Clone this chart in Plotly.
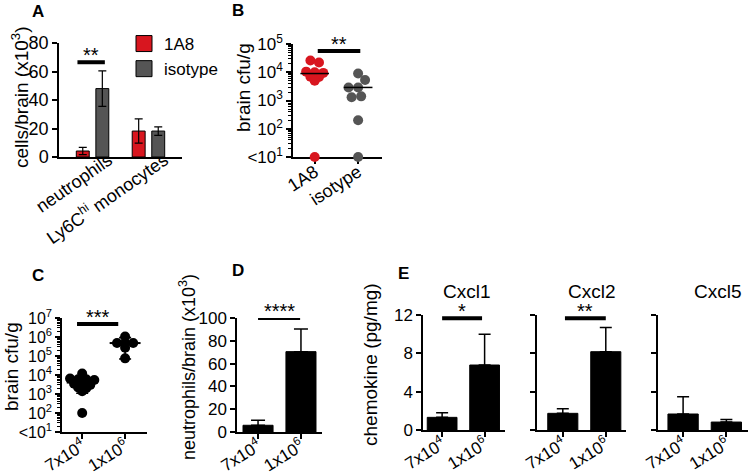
import numpy as np
import plotly.graph_objects as go

W, H = 750, 476
FONT = "Liberation Sans, Arial, Helvetica, sans-serif"
RED = "#d8161f"
GREY = "#555555"

# ---------------- data ----------------
# Panel A
a_groups = ["neutrophils", "Ly6C<sup>hi</sup> monocytes"]
a_series = ["1A8", "isotype"]
a_1a8_mean = [4.2, 18.2]
a_1a8_sd = [2.6, 8.5]
a_iso_mean = [48.0, 18.2]
a_iso_sd = [12.5, 3.0]
a_yticks = [0, 20, 40, 60, 80]
a_sig_text = "**"
a_sig_level = 66.5
a_sig_span = [-0.27, 0.22]

# Panel B
b_groups = ["1A8", "isotype"]
b_1a8 = [26000, 22000, 10500, 10000, 9500, 7000, 6800, 5000, 10]
b_iso = [9000, 5300, 2900, 2900, 1400, 1300, 200, 10]
b_median = [9000, 2900]
b_yticks = [10, 100, 1000, 10000, 100000]
b_yticktext = ["<10<sup>1</sup>", "10<sup>2</sup>", "10<sup>3</sup>", "10<sup>4</sup>", "10<sup>5</sup>"]
b_sig_text = "**"
b_sig_level = 56000
b_sig_span = [0.07, 1.05]

# Panel C
c_groups = ["7x10<sup>4</sup>", "1x10<sup>6</sup>"]
c_low = [12000, 6500, 6000, 6000, 5500, 3500, 3200, 3000, 2200, 2000, 1400, 100]
c_high = [1070000, 480000, 480000, 480000, 270000, 75000]
c_median = [4000, 480000]
c_err_lo = [1100, 70000]
c_err_hi = [6000, 930000]
c_yticks = [10, 1e2, 1e3, 1e4, 1e5, 1e6, 1e7]
c_yticktext = ["<10<sup>1</sup>", "10<sup>2</sup>", "10<sup>3</sup>", "10<sup>4</sup>",
               "10<sup>5</sup>", "10<sup>6</sup>", "10<sup>7</sup>"]
c_sig_text = "***"
c_sig_level = 4.8e6
c_sig_span = [-0.12, 0.84]

# Panel D
d_groups = ["7x10<sup>4</sup>", "1x10<sup>6</sup>"]
d_mean = [5.9, 70.5]
d_sd = [4.4, 19.8]
d_yticks = [0, 20, 40, 60, 80, 100]
d_sig_text = "****"
d_sig_level = 100
d_sig_span = [0.0, 0.98]

# Panel E
e_groups = ["7x10<sup>4</sup>", "1x10<sup>6</sup>"]
e_titles = ["Cxcl1", "Cxcl2", "Cxcl5"]
e_cxcl1_mean = [1.32, 6.78]
e_cxcl1_sd = [0.48, 3.22]
e_cxcl2_mean = [1.74, 8.17]
e_cxcl2_sd = [0.49, 2.53]
e_cxcl5_mean = [1.67, 0.83]
e_cxcl5_sd = [1.81, 0.27]
e_yticks = [0, 4, 8, 12]
e_sig_text = ["*", "**", None]
e_sig_level = [11.65, 11.65, None]
e_sig_span = [[0.0, 0.94], [0.05, 1.0], None]

# ---------------- helpers ----------------
def dom_x(a, b):
    return [a / W, b / W]

def dom_y(top, bottom):
    return [1 - bottom / H, 1 - top / H]

def swarm_greedy(values, x0, px_per_x, px_per_decade, diam):
    logs = np.log10(np.asarray(values, dtype=float))
    order = np.argsort(-logs, kind="stable")
    placed = []
    xs = np.zeros(len(logs))
    for i in order:
        y = -logs[i] * px_per_decade
        cands = [0.0]
        for (px, py) in placed:
            dy = y - py
            if abs(dy) < diam:
                dx = np.sqrt(diam ** 2 - dy ** 2)
                cands += [px + dx, px - dx]
        cands.sort(key=abs)
        chosen = 0.0
        for c in cands:
            if all((c - px) ** 2 + (y - py) ** 2 >= diam ** 2 - 1e-6 for px, py in placed):
                chosen = c
                break
        placed.append((chosen, y))
        xs[i] = x0 + chosen / px_per_x
    return xs.tolist()

def swarm_rows(values, x0, px_per_x, px_per_decade, spacing, gap):
    """Prism-like rows: points close in value share a row, centred on the column."""
    logs = np.log10(np.asarray(values, dtype=float))
    order = list(np.argsort(-logs, kind="stable"))
    xs = np.zeros(len(logs))
    rows, cur = [], [order[0]]
    for i in order[1:]:
        if (logs[cur[0]] - logs[i]) * px_per_decade <= gap:
            cur.append(i)
        else:
            rows.append(cur)
            cur = [i]
    rows.append(cur)
    for r in rows:
        n = len(r)
        for j, i in enumerate(r):
            xs[i] = x0 + (j - (n - 1) / 2) * spacing / px_per_x
    return xs.tolist()

fig = go.Figure()

def sig_bar(xa, ya, span, level):
    fig.add_trace(go.Scatter(x=span, y=[level, level], mode="lines",
                             line=dict(color="black", width=4), cliponaxis=False,
                             showlegend=False, hoverinfo="skip", xaxis=xa, yaxis=ya))

annotations = []

def sig_text(xa, ya, span, level, text, log=False):
    yv = np.log10(level) if log else level
    annotations.append(dict(x=(span[0] + span[1]) / 2, y=yv, xref=xa, yref=ya, text=text,
                            showarrow=False, yanchor="bottom", yshift=-6,
                            font=dict(size=20, family=FONT, color="black")))

# ---------------- Panel A ----------------
fig.add_trace(go.Bar(x=[0, 1], y=a_1a8_mean, name=a_series[0], marker=dict(color=RED, line=dict(color="black", width=1)),
                     error_y=dict(type="data", array=a_1a8_sd, color="black", thickness=1.2, width=4),
                     showlegend=False, xaxis="x", yaxis="y"))
fig.add_trace(go.Bar(x=[0, 1], y=a_iso_mean, name=a_series[1], marker=dict(color=GREY, line=dict(color="black", width=1)),
                     error_y=dict(type="data", array=a_iso_sd, color="black", thickness=1.2, width=4),
                     showlegend=False, xaxis="x", yaxis="y"))
for nm, col in zip(a_series, [RED, GREY]):
    fig.add_trace(go.Scatter(x=[None], y=[None], mode="markers", name=nm,
                             marker=dict(symbol="square", size=16, color=col, line=dict(color="black", width=1)),
                             xaxis="x", yaxis="y"))
sig_bar("x", "y", a_sig_span, a_sig_level)
sig_text("x", "y", a_sig_span, a_sig_level, a_sig_text)

# ---------------- Panel B ----------------
B_PXX, B_PXD = 43.0, 28.5
b_x = [swarm_rows(b_1a8, 0, B_PXX, B_PXD, 8.5, 3.0), swarm_greedy(b_iso, 1, B_PXX, B_PXD, 9.5)]
for xs, vals, col in zip(b_x, [b_1a8, b_iso], [RED, GREY]):
    fig.add_trace(go.Scatter(x=xs, y=vals, mode="markers",
                             marker=dict(size=10, color=col), cliponaxis=False, showlegend=False,
                             xaxis="x2", yaxis="y2"))
fig.add_trace(go.Scatter(x=[0, 1], y=b_median, mode="markers", marker=dict(size=1, color="rgba(0,0,0,0)"),
                         error_x=dict(type="constant", value=0.33, width=0, thickness=1.5, color="black"),
                         showlegend=False, xaxis="x2", yaxis="y2"))
sig_bar("x2", "y2", b_sig_span, b_sig_level)
sig_text("x2", "y2", b_sig_span, b_sig_level, b_sig_text, log=True)

# ---------------- Panel C ----------------
C_PXX, C_PXD = 42.5, 18.7
for i, vals in enumerate([c_low, c_high]):
    fig.add_trace(go.Scatter(x=swarm_rows(vals, i, C_PXX, C_PXD, 8.0, 3.0), y=vals, mode="markers",
                             marker=dict(size=10, color="black"), cliponaxis=False, showlegend=False,
                             xaxis="x3", yaxis="y3"))
fig.add_trace(go.Scatter(x=[0, 1], y=c_median, mode="markers", marker=dict(size=1, color="rgba(0,0,0,0)"),
                         error_x=dict(type="constant", value=0.36, width=0, thickness=2, color="black"),
                         error_y=dict(type="data", symmetric=False,
                                      array=[h - m for h, m in zip(c_err_hi, c_median)],
                                      arrayminus=[m - l for m, l in zip(c_median, c_err_lo)],
                                      width=6, thickness=1.6, color="black"),
                         showlegend=False, xaxis="x3", yaxis="y3"))
sig_bar("x3", "y3", c_sig_span, c_sig_level)
sig_text("x3", "y3", c_sig_span, c_sig_level, c_sig_text, log=True)

# ---------------- Panel D ----------------
fig.add_trace(go.Bar(x=[0, 1], y=d_mean, width=0.7, marker=dict(color="black", line=dict(color="black", width=1)),
                     error_y=dict(type="data", symmetric=False, array=d_sd, arrayminus=[0, 0],
                                  color="black", thickness=1.5, width=7),
                     showlegend=False, xaxis="x4", yaxis="y4"))
sig_bar("x4", "y4", d_sig_span, d_sig_level)
sig_text("x4", "y4", d_sig_span, d_sig_level, d_sig_text)

# ---------------- Panel E ----------------
e_means = [e_cxcl1_mean, e_cxcl2_mean, e_cxcl5_mean]
e_sds = [e_cxcl1_sd, e_cxcl2_sd, e_cxcl5_sd]
for k in range(3):
    xa, ya = "x%d" % (5 + k), "y%d" % (5 + k)
    fig.add_trace(go.Bar(x=[0, 1], y=e_means[k], width=0.7, marker=dict(color="black", line=dict(color="black", width=1)),
                         error_y=dict(type="data", symmetric=False, array=e_sds[k], arrayminus=[0, 0],
                                      color="black", thickness=1.5, width=6),
                         showlegend=False, xaxis=xa, yaxis=ya))
    if e_sig_text[k]:
        sig_bar(xa, ya, e_sig_span[k], e_sig_level[k])
        sig_text(xa, ya, e_sig_span[k], e_sig_level[k], e_sig_text[k])

# ---------------- axes ----------------
def tf(size):
    return dict(size=size, color="black", family=FONT)

def ax(**kw):
    d = dict(showline=True, linecolor="black", linewidth=1.5, ticks="outside", ticklen=5, tickwidth=1.5,
             tickcolor="black", showgrid=False, zeroline=False, automargin=False, fixedrange=True,
             layer="below traces", tickfont=tf(17))
    d.update(kw)
    return d

XSTAND = -9
layout_axes = dict(
    xaxis=ax(domain=dom_x(59, 182), range=[-0.6, 1.6], anchor="y", tickvals=[0, 1], ticktext=a_groups,
             ticks="", tickangle=-35, ticklabelshift=16, ticklabelstandoff=-16, tickfont=tf(18)),
    yaxis=ax(domain=dom_y(43, 157), range=[0, 80], anchor="x", tickvals=a_yticks, tickfont=tf(18)),
    xaxis2=ax(domain=dom_x(293, 382), range=[-0.5, 1.55], anchor="y2", tickvals=[0, 1], ticktext=b_groups,
              tickangle=-33, ticklabelstandoff=XSTAND, tickfont=tf(18)),
    yaxis2=ax(domain=dom_y(44, 157), type="log", range=[1, 5], anchor="x2", tickvals=b_yticks,
              ticktext=b_yticktext, tickfont=tf(17),
              minor=dict(ticks="outside", ticklen=3, tickwidth=1, tickcolor="black", dtick="D1")),
    xaxis3=ax(domain=dom_x(62, 147), range=[-0.47, 1.51], anchor="y3", tickvals=[0, 1], ticktext=c_groups,
              tickangle=-32, ticklabelstandoff=XSTAND, tickfont=tf(17)),
    yaxis3=ax(domain=dom_y(318, 432), type="log", range=[1, 7], anchor="x3", tickvals=c_yticks,
              ticktext=c_yticktext, tickfont=tf(16),
              minor=dict(ticks="outside", ticklen=3, tickwidth=1, tickcolor="black", dtick="D1")),
    xaxis4=ax(domain=dom_x(237, 322), range=[-0.49, 1.49], anchor="y4", tickvals=[0, 1], ticktext=d_groups,
              tickangle=-32, ticklabelstandoff=XSTAND, tickfont=tf(17)),
    yaxis4=ax(domain=dom_y(318, 432), range=[0, 100], anchor="x4", tickvals=d_yticks, tickfont=tf(17)),
)
e_xdom = [(423, 505), (537, 626), (658, 748)]
e_xrange = [[-0.45, 1.48], [-0.6, 1.47], [-0.58, 1.5]]
for k in range(3):
    layout_axes["xaxis%d" % (5 + k)] = ax(domain=dom_x(*e_xdom[k]), range=e_xrange[k], anchor="y%d" % (5 + k),
                                          tickvals=[0, 1], ticktext=e_groups, tickangle=-32,
                                          ticklabelstandoff=XSTAND, tickfont=tf(17))
    layout_axes["yaxis%d" % (5 + k)] = ax(domain=dom_y(315, 430), range=[0, 12], anchor="x%d" % (5 + k),
                                          tickvals=e_yticks, showticklabels=(k == 0), tickfont=tf(17))

# ---------------- text annotations ----------------
def paper_text(x, y, text, size=18, angle=0, bold=False):
    annotations.append(dict(x=x / W, y=1 - y / H, xref="paper", yref="paper",
                            text=("<b>%s</b>" % text) if bold else text, showarrow=False,
                            textangle=angle, xanchor="center", yanchor="middle",
                            font=dict(size=size, family=FONT, color="black")))

for lab, (px, py) in zip("ABCDE", [(38, 11), (238, 10), (38, 275), (238, 270), (404, 273)]):
    paper_text(px, py, lab, size=17, bold=True)

paper_text(20, 97, "cells/brain (x10<sup>3</sup>)", size=19, angle=-90)
paper_text(243, 88, "brain cfu/g", size=19, angle=-90)
paper_text(11, 367, "brain cfu/g", size=19, angle=-90)
paper_text(187, 367, "neutrophils/brain (x10<sup>3</sup>)", size=18, angle=-90)
paper_text(370, 365, "chemokine (pg/mg)", size=19, angle=-90)
for t, cx in zip(e_titles, [467, 592, 718]):
    paper_text(cx, 291, t, size=19)

fig.update_layout(
    width=W, height=H, margin=dict(l=0, r=0, t=0, b=0), autosize=False,
    template="none", paper_bgcolor="white", plot_bgcolor="white",
    font=dict(family=FONT, color="black", size=16),
    barmode="group", bargap=0.3, bargroupgap=0.34,
    showlegend=True,
    legend=dict(x=124 / W, y=1 - 26 / H, xanchor="left", yanchor="top", bgcolor="rgba(0,0,0,0)",
                font=dict(size=17, family=FONT, color="black"), itemsizing="trace", tracegroupgap=0),
    annotations=annotations,
    **layout_axes,
)

# remove the default 8px page margin so the figure fills the 750x476 window exactly
fig.write_html("out.html", config={"displayModeBar": False},
               post_script="document.body.style.margin='0px';")
